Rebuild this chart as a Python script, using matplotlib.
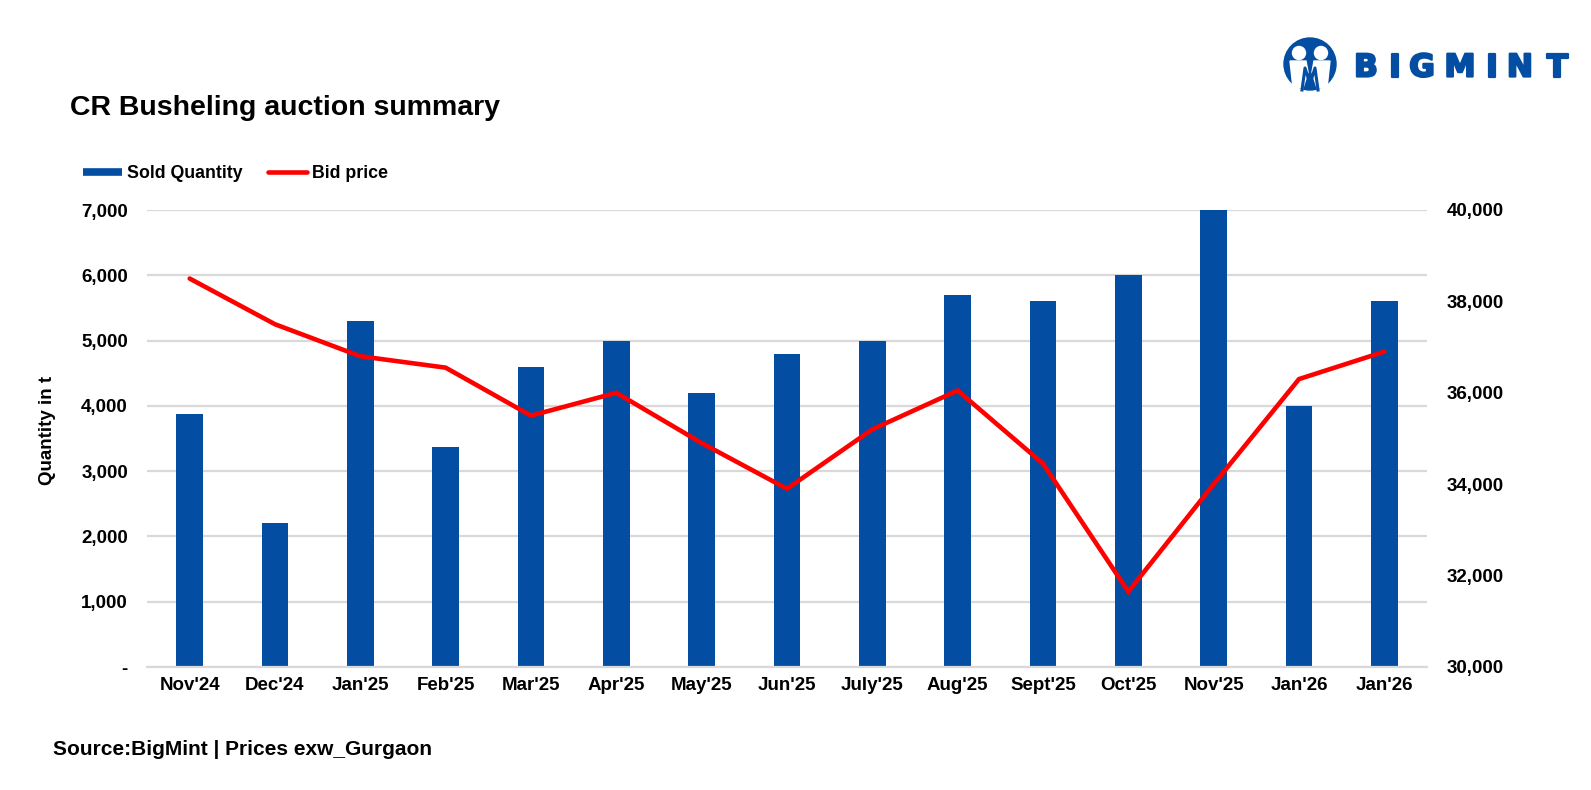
import matplotlib.pyplot as plt
import matplotlib.patheffects as pe
from matplotlib.patches import Circle, Polygon
from matplotlib.lines import Line2D
from matplotlib.ticker import FuncFormatter, MultipleLocator

plt.rcParams['font.family'] = ['Liberation Sans', 'DejaVu Sans']
plt.rcParams['font.weight'] = 'bold'

months = ["Nov'24", "Dec'24", "Jan'25", "Feb'25", "Mar'25", "Apr'25", "May'25", "Jun'25",
          "July'25", "Aug'25", "Sept'25", "Oct'25", "Nov'25", "Jan'26", "Jan'26"]
sold_qty = [3880, 2200, 5300, 3370, 4600, 5000, 4200, 4800, 5000, 5700, 5600, 6000, 7000, 4000, 5600]
bid_price = [38500, 37500, 36800, 36550, 35500, 36000, 34900, 33900, 35200, 36050, 34450, 31650,
             34000, 36300, 36900]

blue = '#034EA2'
red = '#FF0000'
grid_c = '#D9D9D9'

W, H = 1591, 790
fig = plt.figure(figsize=(W / 100, H / 100), dpi=100)
ax = fig.add_axes([147 / W, 1 - 667 / H, 1280 / W, 457 / H])
ax2 = ax.twinx()

x = list(range(len(months)))
ax.bar(x, sold_qty, width=0.31, color=blue, zorder=2)
ax2.plot(x, bid_price, color=red, lw=3.3, solid_capstyle='round', solid_joinstyle='miter',
         zorder=3)

ax.set_xlim(-0.5, len(months) - 0.5)
ax.set_ylim(0, 7000)
ax2.set_ylim(30000, 40000)
ax.yaxis.set_major_locator(MultipleLocator(1000))
ax2.yaxis.set_major_locator(MultipleLocator(2000))
ax.yaxis.set_major_formatter(FuncFormatter(lambda v, p: '-' if v == 0 else f'{v:,.0f}'))
ax2.yaxis.set_major_formatter(FuncFormatter(lambda v, p: f'{v:,.0f}'))
ax.set_xticks(x)
ax.set_xticklabels(months)

ax.grid(axis='y', color=grid_c, lw=1.6, zorder=0)
ax.set_axisbelow(True)
for a in (ax, ax2):
    for s in ['top', 'right', 'left', 'bottom']:
        a.spines[s].set_visible(False)
    a.tick_params(length=0, labelsize=13.5)
ax.spines['bottom'].set_visible(True)
ax.spines['bottom'].set_color(grid_c)
ax.spines['bottom'].set_linewidth(1.6)
ax.tick_params(axis='x', pad=7)
ax.tick_params(axis='y', pad=13.7)
ax2.tick_params(axis='y', pad=14.4)

fig.text(47 / W, 1 - 430 / H, 'Quantity in t', rotation=90, fontsize=13.5,
         fontweight='bold', ha='center', va='center')

fig.text(70 / W, 1 - 115 / H, 'CR Busheling auction summary', fontsize=20.5,
         fontweight='bold', va='baseline')

handles = [Line2D([], [], color=blue, lw=5.5, solid_capstyle='butt'),
           Line2D([], [], color=red, lw=3.3, solid_capstyle='round')]
fig.legend(handles, ['Sold Quantity', 'Bid price'], loc='center left',
           bbox_to_anchor=(83 / W, 1 - 174 / H), ncol=2, frameon=False, fontsize=12.8,
           handlelength=2.2, handletextpad=0.28, columnspacing=1.4, borderpad=0,
           borderaxespad=0)

fig.text(53 / W, 1 - 755 / H, 'Source:BigMint | Prices exw_Gurgaon', fontsize=15,
         fontweight='bold', va='baseline')

# logo
logo = fig.add_axes([0.0, 0.0, 1.0, 1.0], facecolor='none')
logo.set_xlim(0, W)
logo.set_ylim(H, 0)
logo.axis('off')
logo.add_patch(Circle((1310, 64), 26, color=blue))
logo.add_patch(Circle((1299, 53), 6.5, color='white'))
logo.add_patch(Circle((1321, 53), 6.5, color='white'))
logo.add_patch(Polygon([(1290, 61), (1306, 61), (1308, 72), (1303, 88), (1293, 88)],
                       color='white'))
logo.add_patch(Polygon([(1314, 61), (1330, 61), (1327, 88), (1317, 88), (1312, 72)],
                       color='white'))
logo.plot([1302, 1305, 1310, 1315, 1318], [90, 68, 84, 68, 90], color=blue, lw=2.2)
letters = ['B', 'I', 'G', 'M', 'I', 'N', 'T']
letter_x = [1366, 1395, 1422, 1460, 1492, 1520, 1557]
for ch, lx in zip(letters, letter_x):
    logo.text(lx, 68, ch, color=blue, fontsize=22.5, fontweight='bold',
              ha='center', va='center', family='DejaVu Sans',
              path_effects=[pe.withStroke(linewidth=1.6, foreground=blue)])

fig.savefig('out.png', dpi=100, facecolor='white')
